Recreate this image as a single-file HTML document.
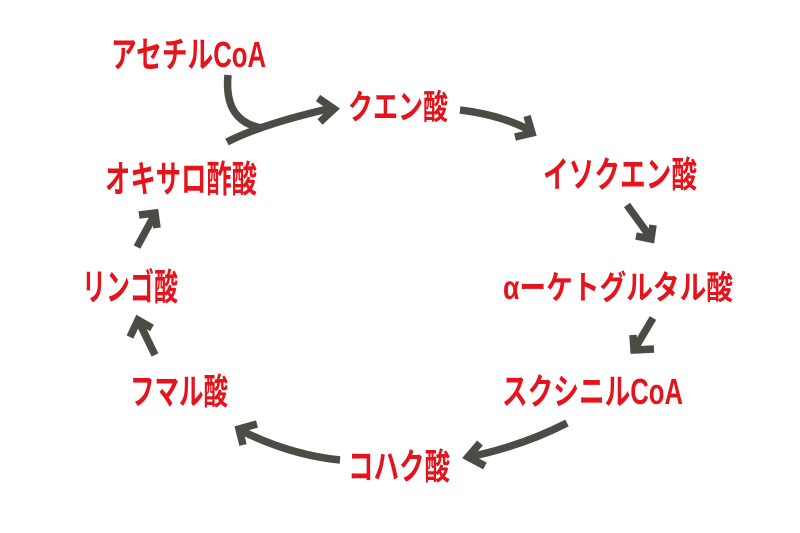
<!DOCTYPE html>
<html>
<head>
<meta charset="utf-8">
<style>
html,body{margin:0;padding:0;background:#ffffff;}
svg{display:block;}
text{font-family:"Liberation Sans","Noto Sans CJK JP",sans-serif;font-weight:bold;fill:#e5131b;}
</style>
</head>
<body>
<svg width="800" height="533" viewBox="0 0 800 533" xmlns="http://www.w3.org/2000/svg">
<rect width="800" height="533" fill="#ffffff"/>
<g fill="none" stroke="#4b4c45" stroke-width="7.5" stroke-linecap="butt" stroke-linejoin="miter">
  <!-- Acetyl-CoA curve -->
  <path d="M228,75 C225,108 238,124 262,128"/>
  <!-- Oxaloacetate -> Citrate -->
  <path d="M227,142 Q262,124 332,108"/>
  <polyline points="318,98 334,109 320,122"/>
  <!-- Citrate -> Isocitrate -->
  <path d="M460,110 Q502,115 531,131"/>
  <polyline points="527,116 532,133 515,137"/>
  <!-- Isocitrate -> alpha-KG -->
  <path d="M627,205 L651,238"/>
  <polyline points="653,225 651,239 636,236"/>
  <!-- alpha-KG -> Succinyl-CoA -->
  <path d="M653,318 L634,350"/>
  <polyline points="633,335 634,350 654,349"/>
  <!-- Succinyl-CoA -> Succinate -->
  <path d="M567,423 Q522,446 469,457"/>
  <polyline points="480,443 468,457 485,466"/>
  <!-- Succinate -> Fumarate -->
  <path d="M340,460 Q290,455 240,430"/>
  <polyline points="257,424 239,429 243,445"/>
  <!-- Fumarate -> Malate -->
  <path d="M155,355 L138,320"/>
  <polyline points="130,337 138,320 152,328"/>
  <!-- Malate -> Oxaloacetate -->
  <path d="M137,247 L155,214"/>
  <polyline points="139,215 155,213 157,228"/>
</g>
<text x="111" y="67" font-size="36" textLength="155" lengthAdjust="spacingAndGlyphs">アセチルCoA</text>
<text x="348" y="119" font-size="34" textLength="100" lengthAdjust="spacingAndGlyphs">クエン酸</text>
<text x="543" y="187" font-size="36" textLength="154" lengthAdjust="spacingAndGlyphs">イソクエン酸</text>
<text x="503" y="299" font-size="33" textLength="230" lengthAdjust="spacingAndGlyphs">αーケトグルタル酸</text>
<text x="502" y="404" font-size="36" textLength="181" lengthAdjust="spacingAndGlyphs">スクシニルCoA</text>
<text x="348" y="479" font-size="36" textLength="102" lengthAdjust="spacingAndGlyphs">コハク酸</text>
<text x="130" y="404" font-size="36" textLength="98" lengthAdjust="spacingAndGlyphs">フマル酸</text>
<text x="82" y="300" font-size="37" textLength="96" lengthAdjust="spacingAndGlyphs">リンゴ酸</text>
<text x="105" y="192" font-size="37" textLength="152" lengthAdjust="spacingAndGlyphs">オキサロ酢酸</text>
</svg>
</body>
</html>
